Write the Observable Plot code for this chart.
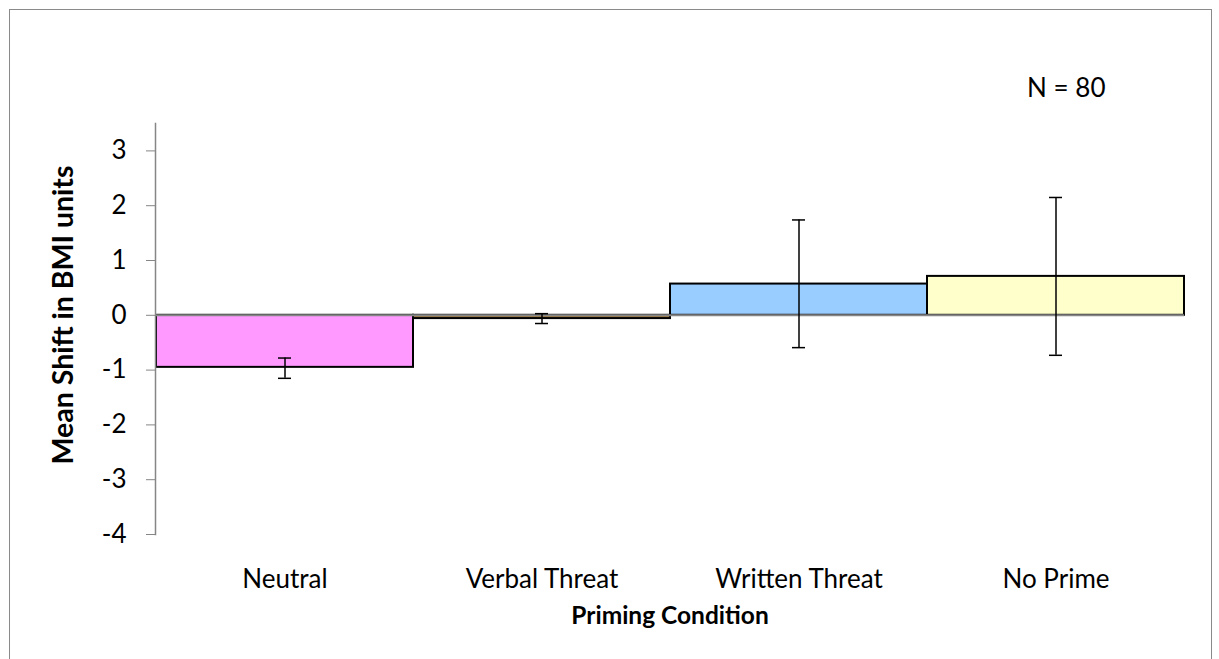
<!DOCTYPE html>
<html>
<head>
<meta charset="utf-8">
<script src="https://cdn.jsdelivr.net/npm/d3@7"></script>
<script src="https://cdn.jsdelivr.net/npm/@observablehq/plot@0.6"></script>
<style>
  html, body { margin: 0; padding: 0; background: #fff; overflow: hidden; }
  #wrap { position: relative; width: 1219px; height: 659px; }
  #border { position: absolute; left: 9px; top: 9px; width: 1203px; height: 720px; border: 1.5px solid #8a8a8a; box-sizing: border-box; pointer-events: none; }
  #chart { position: absolute; left: 0; top: 0; }
</style>
</head>
<body>
<div id="wrap"><div id="chart"></div><div id="border"></div></div>
<script>
const categories = ["Neutral", "Verbal Threat", "Written Threat", "No Prime"];
const means = [-0.95, -0.06, 0.57, 0.71];
const errLow = [-1.15, -0.15, -0.59, -0.73];
const errHigh = [-0.78, 0.03, 1.74, 2.15];
const barColors = ["#FF99FF", "#9C7A3C", "#99CCFF", "#FFFFCC"];
const yTicks = [-4, -3, -2, -1, 0, 1, 2, 3];
const yLabel = "Mean Shift in BMI units";
const xLabel = "Priming Condition";
const note = "N = 80";

const data = categories.map((c, i) => ({cat: c, mean: means[i], lo: errLow[i], hi: errHigh[i]}));

const font = "Lato, 'Open Sans', sans-serif";

const chart = Plot.plot({
  width: 1219,
  height: 659,
  marginLeft: 155,
  marginRight: 35,
  marginTop: 123,
  marginBottom: 125,
  style: {fontFamily: font, fontSize: "26px", color: "black", background: "transparent"},
  x: {domain: categories, padding: 0, label: null},
  y: {domain: [-4, 3.5], label: null},
  color: {domain: categories, range: barColors},
  marks: [
    Plot.barY(data, {x: "cat", y: "mean", fill: "cat", stroke: "black", strokeWidth: 2}),
    Plot.ruleY([0], {stroke: "#868686", strokeWidth: 2}),
    Plot.ruleX(data, {x: "cat", y1: "lo", y2: "hi", stroke: "black", strokeWidth: 1.5}),
    Plot.tickY(data, {x: "cat", y: "lo", insetLeft: 122, insetRight: 122, stroke: "black", strokeWidth: 1.5}),
    Plot.tickY(data, {x: "cat", y: "hi", insetLeft: 122, insetRight: 122, stroke: "black", strokeWidth: 1.5}),
    Plot.frame({anchor: "left", stroke: "#868686", strokeWidth: 1.5}),
    Plot.axisY({ticks: yTicks, tickSize: 9, tickPadding: 20, stroke: "#868686", fill: "black", tickFormat: d => String(d), fontSize: 26}),
    Plot.axisX({tickSize: 0, tickPadding: 35, fill: "black", fontSize: 26}),
    Plot.text([yLabel], {text: d => d, frameAnchor: "left", textAnchor: "middle", lineAnchor: "middle", rotate: -90, dx: -92, dy: -14, fontWeight: "bold", fontSize: 28.5, fill: "black"}),
    Plot.text([xLabel], {text: d => d, frameAnchor: "bottom", lineAnchor: "middle", dy: 82, fontWeight: "bold", fontSize: 24.5, fill: "black"}),
    Plot.text([note], {text: d => d, frameAnchor: "top-right", textAnchor: "end", lineAnchor: "middle", dx: -79, dy: -35, fontSize: 26, fill: "black"})
  ]
});
document.getElementById("chart").appendChild(chart);
</script>
</body>
</html>
